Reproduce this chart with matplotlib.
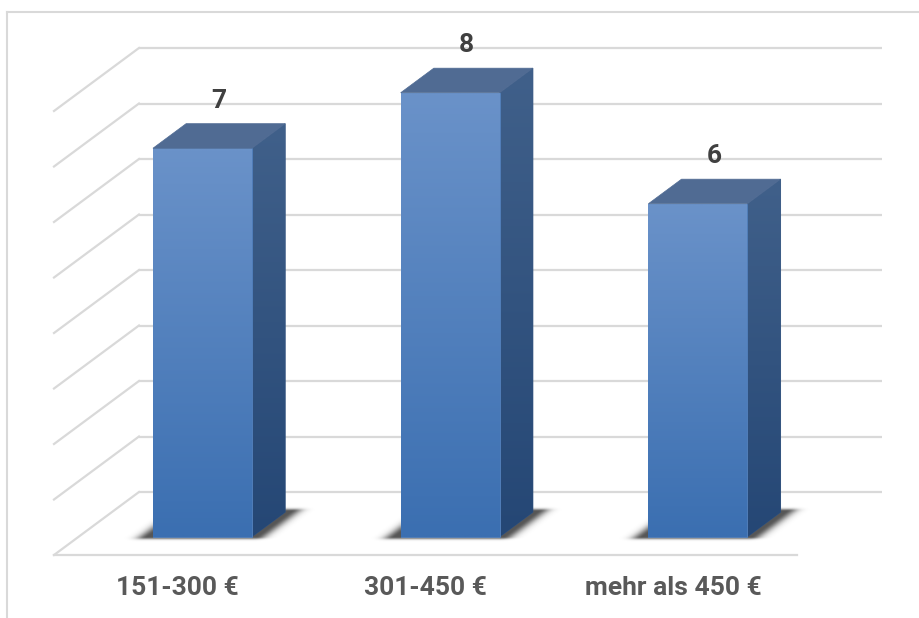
import numpy as np
import matplotlib
matplotlib.use("Agg")
import matplotlib.pyplot as plt
from matplotlib.patches import Polygon
from matplotlib.colors import to_rgb
from matplotlib.lines import Line2D

plt.rcParams['font.family'] = ['Roboto', 'DejaVu Sans']

# data
categories = ["151-300 €", "301-450 €", "mehr als 450 €"]
values = [7, 8, 6]
grid_levels = list(range(0, 9))

# oblique "3d" projection: depth d (0 = front of floor, 1 = back wall)
DX, DY = 0.343, 1.135
D0, D1 = 0.29, 0.68      # depth range covered by the bars
BAR_W = 0.4              # bar width as share of one category slot


def proj(x, v, d):
    return (x + d * DX, v + d * DY)


fig = plt.figure(figsize=(9.2, 6.18), dpi=100)
ax = fig.add_axes([0, 0, 1, 1])
ax.axis("off")

grid_col = "#d9d9d9"
n_cat = len(categories)

# walls: back gridlines and diagonal side lines
for v in grid_levels:
    bx0, by = proj(0, v, 1)
    bx1, _ = proj(n_cat, v, 1)
    ax.plot([bx0, bx1], [by, by], color=grid_col, lw=1.6, zorder=1,
            solid_capstyle="butt")
    fx, fy = proj(0, v, 0)
    ax.plot([fx, bx0], [fy, by], color=grid_col, lw=1.6, zorder=1)
# front edge of the floor
ax.plot([0, n_cat], [0, 0], color=grid_col, lw=1.6, zorder=1)


def grad_face(pts, c_top, c_bot, zorder):
    base = np.mean([to_rgb(c_top), to_rgb(c_bot)], axis=0)
    ax.add_patch(Polygon(pts, closed=True, fc=base, ec=base, lw=0.6,
                         zorder=zorder - 0.1))
    poly = Polygon(pts, closed=True, fc="none", ec="none", zorder=zorder)
    ax.add_patch(poly)
    xs = [p[0] for p in pts]
    ys = [p[1] for p in pts]
    t = np.linspace(0, 1, 64)[:, None]
    cols = np.array(to_rgb(c_top)) * (1 - t) + np.array(to_rgb(c_bot)) * t
    im = ax.imshow(cols[:, None, :], extent=(min(xs), max(xs), min(ys), max(ys)),
                   origin="upper", aspect="auto", interpolation="bilinear",
                   zorder=zorder)
    im.set_clip_path(poly)


def shadow(x0, x1, zorder):
    # soft shadow around the footprint of the bar on the floor
    gx = np.linspace(x0 - 0.2, x1 + DX + 0.25, 300)
    gy = np.linspace(-0.4, DY + 0.4, 200)
    X, Y = np.meshgrid(gx, gy)
    d = Y / DY
    x = X - d * DX
    ex, ed = 0.02, 0.01
    ox = np.maximum.reduce([x0 - ex - x, x - x1 - ex, np.zeros_like(x)])
    od = np.maximum.reduce([D0 - ed - d, d - D1 - ed, np.zeros_like(d)])
    a = 0.75 * np.exp(-(ox / 0.04) ** 2 - (od / 0.035) ** 2)
    rgba = np.zeros(X.shape + (4,))
    rgba[..., :3] = 0.12
    rgba[..., 3] = a
    ax.imshow(rgba, extent=(gx[0], gx[-1], gy[0], gy[-1]), origin="lower",
              aspect="auto", interpolation="bilinear", zorder=zorder)


for i, (cat, v) in enumerate(zip(categories, values)):
    xc = i + 0.5
    x0, x1 = xc - BAR_W / 2, xc + BAR_W / 2
    shadow(x0, x1, 2)
    front = [proj(x0, 0, D0), proj(x1, 0, D0), proj(x1, v, D0), proj(x0, v, D0)]
    side = [proj(x1, 0, D0), proj(x1, 0, D1), proj(x1, v, D1), proj(x1, v, D0)]
    top = [proj(x0, v, D0), proj(x1, v, D0), proj(x1, v, D1), proj(x0, v, D1)]
    grad_face(side, "#40608a", "#254775", 3)
    grad_face(front, "#6a92c9", "#3b6fb1", 3.5)
    ax.add_patch(Polygon(top, closed=True, fc="#506b93", ec="#506b93", lw=0.5,
                         zorder=3.6))

    lx, ly = proj(xc, v, (D0 + D1) / 2)
    ax.text(lx, v + D1 * DY + 0.2, str(v), ha="center", va="bottom",
            fontsize=19, fontweight="bold", color="#404040", zorder=5)
    ax.text(xc, -0.6, cat, ha="center", va="center", fontsize=19,
            fontweight="bold", color="#595959", zorder=5)

ax.set_xlim(-0.218, 3.496)
ax.set_ylim(-1.135, 10.0)

# chart area border (left and top edges visible)
fig.add_artist(Line2D([7 / 920, 7 / 920], [0, 1 - 12 / 618], color=grid_col,
                      lw=1.5, transform=fig.transFigure))
fig.add_artist(Line2D([7 / 920, 1], [1 - 12 / 618, 1 - 12 / 618], color=grid_col,
                      lw=1.5, transform=fig.transFigure))

fig.savefig("out.png", dpi=100)
